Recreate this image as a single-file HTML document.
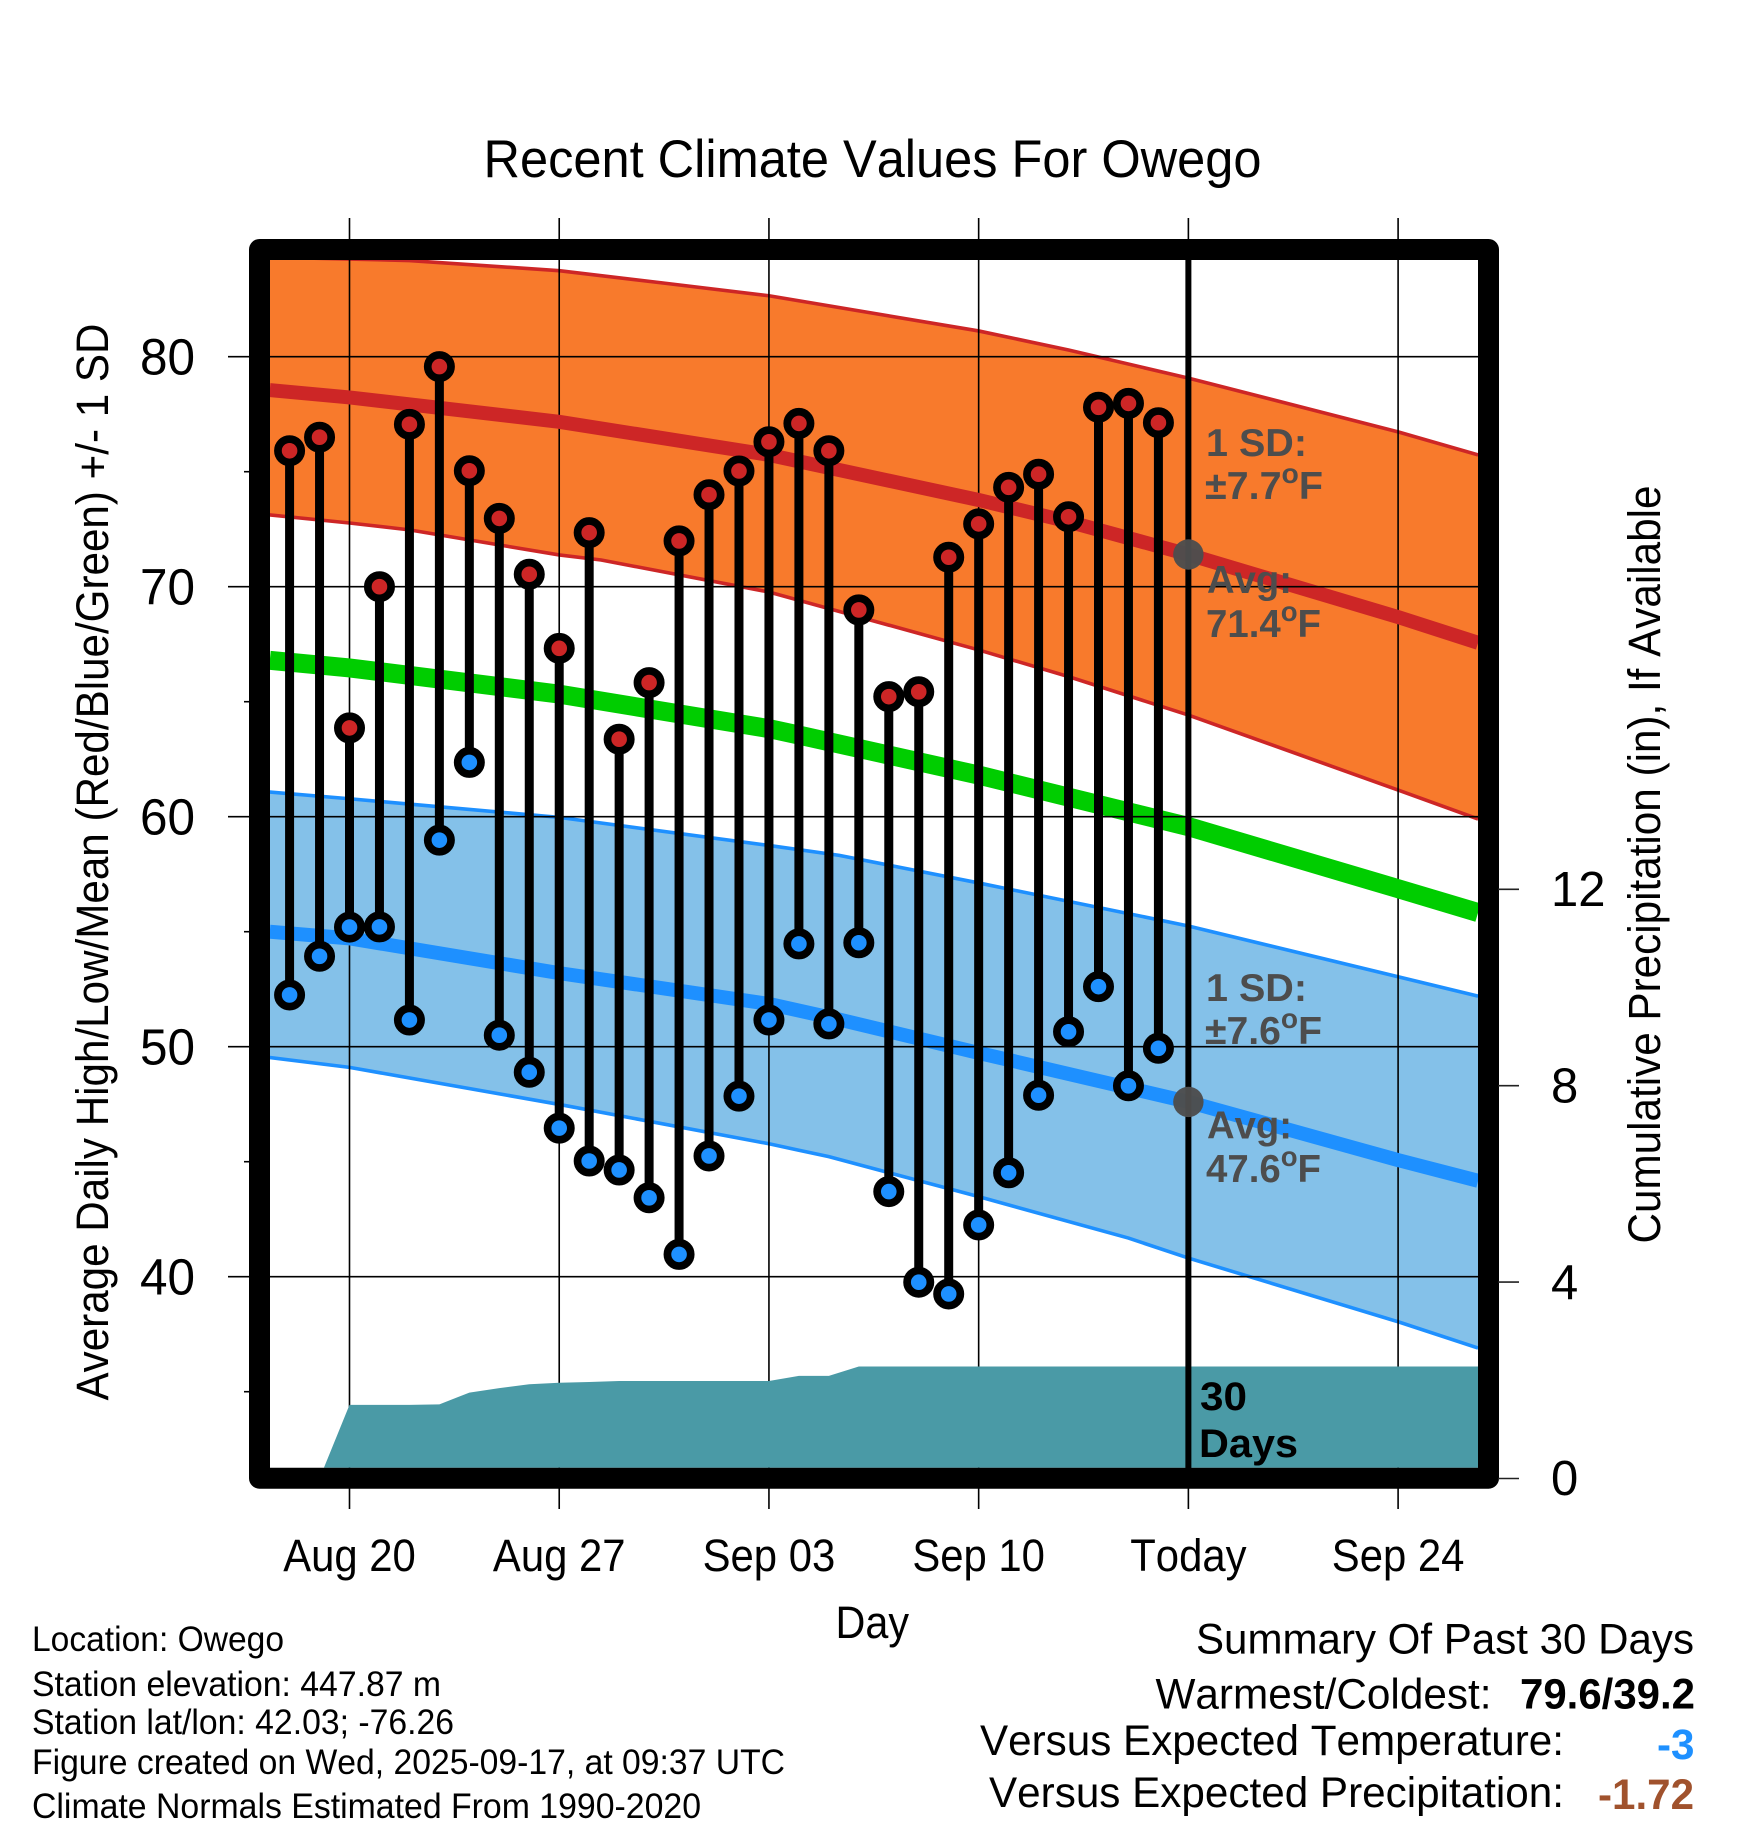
<!DOCTYPE html>
<html lang="en">
<head>
<meta charset="utf-8">
<title>Recent Climate Values For Owego</title>
<style>
html,body{margin:0;padding:0;background:#fff;}
svg{display:block;}
text{font-family:"Liberation Sans",Arial,sans-serif;fill:#000;font-kerning:none;}
.b{font-weight:bold;}
.ann{font-weight:bold;fill:#4D4D4D;font-size:39px;}
</style>
</head>
<body>
<svg id="chart" xmlns="http://www.w3.org/2000/svg" width="1748" height="1828" viewBox="0 0 1748 1828">
  <defs>
    <clipPath id="plot-clip"><rect x="270" y="260" width="1208" height="1207.7"/></clipPath>
  </defs>
  <rect x="0" y="0" width="1748" height="1828" fill="#ffffff"/>
  <text x="483.5" y="177" font-size="53" textLength="778" lengthAdjust="spacingAndGlyphs">Recent Climate Values For Owego</text>

  <g id="layer-bands" clip-path="url(#plot-clip)"></g>
  <g id="layer-vgrid"></g>
  <g id="layer-means" clip-path="url(#plot-clip)"></g>
  <g id="layer-hgrid"></g>
  <g id="layer-precip" clip-path="url(#plot-clip)"></g>
  <g id="layer-stems"></g>
  <g id="layer-markers"></g>
  <g id="layer-today"></g>

  <g>
    <text class="ann" x="1206" y="456" textLength="101" lengthAdjust="spacingAndGlyphs">1 SD:</text>
    <text class="ann" x="1205" y="499" textLength="118" lengthAdjust="spacingAndGlyphs">±7.7<tspan font-size="28" dy="-16">o</tspan><tspan dy="16">F</tspan></text>
    <text class="ann" x="1207" y="593" textLength="85" lengthAdjust="spacingAndGlyphs">Avg:</text>
    <text class="ann" x="1206" y="637" textLength="115" lengthAdjust="spacingAndGlyphs">71.4<tspan font-size="28" dy="-16">o</tspan><tspan dy="16">F</tspan></text>
  </g>
  <g>
    <text class="ann" x="1206" y="1001" textLength="101" lengthAdjust="spacingAndGlyphs">1 SD:</text>
    <text class="ann" x="1205" y="1044" textLength="117" lengthAdjust="spacingAndGlyphs">±7.6<tspan font-size="28" dy="-16">o</tspan><tspan dy="16">F</tspan></text>
    <text class="ann" x="1207" y="1138.5" textLength="85" lengthAdjust="spacingAndGlyphs">Avg:</text>
    <text class="ann" x="1206" y="1182" textLength="115" lengthAdjust="spacingAndGlyphs">47.6<tspan font-size="28" dy="-16">o</tspan><tspan dy="16">F</tspan></text>
  </g>
  <text class="b" x="1200" y="1410" font-size="40" textLength="47" lengthAdjust="spacingAndGlyphs">30</text>
  <text class="b" x="1199" y="1457" font-size="40" textLength="99" lengthAdjust="spacingAndGlyphs">Days</text>

  <rect x="259.5" y="249.5" width="1229" height="1228.7" fill="none" stroke="#000" stroke-width="21" stroke-linejoin="round"/>

  <g id="layer-axes"></g>

  <text transform="translate(108,862) rotate(-90)" text-anchor="middle" font-size="45" textLength="1077" lengthAdjust="spacingAndGlyphs">Average Daily High/Low/Mean (Red/Blue/Green) +/- 1 SD</text>
  <text transform="translate(1660,864.5) rotate(-90)" text-anchor="middle" font-size="45" textLength="758" lengthAdjust="spacingAndGlyphs">Cumulative Precipitation (in), If Available</text>
  <text x="835.5" y="1638" font-size="45" textLength="73.5" lengthAdjust="spacingAndGlyphs">Day</text>

  <g>
    <text x="32" y="1651" font-size="35" textLength="252" lengthAdjust="spacingAndGlyphs">Location: Owego</text>
    <text x="32" y="1696" font-size="35" textLength="409" lengthAdjust="spacingAndGlyphs">Station elevation: 447.87 m</text>
    <text x="32" y="1734" font-size="35" textLength="422" lengthAdjust="spacingAndGlyphs">Station lat/lon: 42.03; -76.26</text>
    <text x="32" y="1774" font-size="35" textLength="753" lengthAdjust="spacingAndGlyphs">Figure created on Wed, 2025-09-17, at 09:37 UTC</text>
    <text x="32" y="1818" font-size="35" textLength="669" lengthAdjust="spacingAndGlyphs">Climate Normals Estimated From 1990-2020</text>
  </g>

  <g>
    <text x="1196" y="1653.5" font-size="43" textLength="498" lengthAdjust="spacingAndGlyphs">Summary Of Past 30 Days</text>
    <text x="1155.5" y="1708.5" font-size="43" textLength="336" lengthAdjust="spacingAndGlyphs">Warmest/Coldest:</text>
    <text class="b" x="1520" y="1708.5" font-size="43" textLength="175" lengthAdjust="spacingAndGlyphs">79.6/39.2</text>
    <text x="980" y="1755" font-size="43" textLength="584" lengthAdjust="spacingAndGlyphs">Versus Expected Temperature:</text>
    <text class="b" x="1657" y="1759" font-size="43" textLength="37.5" lengthAdjust="spacingAndGlyphs" style="fill:#1E90FF">-3</text>
    <text x="989" y="1807" font-size="43" textLength="575" lengthAdjust="spacingAndGlyphs">Versus Expected Precipitation:</text>
    <text class="b" x="1598" y="1809" font-size="43" textLength="96" lengthAdjust="spacingAndGlyphs" style="fill:#A0522D">-1.72</text>
  </g>
</svg>

<script>
// ---- Observed daily data ----
const dates = ["Aug 18","Aug 19","Aug 20","Aug 21","Aug 22","Aug 23","Aug 24","Aug 25","Aug 26","Aug 27","Aug 28","Aug 29","Aug 30","Aug 31","Sep 01","Sep 02","Sep 03","Sep 04","Sep 05","Sep 06","Sep 07","Sep 08","Sep 09","Sep 10","Sep 11","Sep 12","Sep 13","Sep 14","Sep 15","Sep 16"];
const highs = [75.91,76.5,63.86,70.0,77.06,79.57,75.04,72.97,70.54,67.32,72.35,63.37,65.83,71.99,74.0,75.03,76.3,77.1,75.91,68.99,65.22,65.43,71.28,72.73,74.32,74.89,73.04,77.8,77.97,77.13];
const lows = [52.25,53.93,55.2,55.21,51.16,58.98,62.36,50.5,48.89,46.46,45.03,44.64,43.43,40.97,45.25,47.85,51.16,54.47,50.99,54.52,43.7,39.76,39.25,42.25,44.52,47.89,50.65,52.61,48.3,49.93];
const precip = [0,0,1.5,1.5,1.5,1.51,1.75,1.84,1.92,1.95,1.965,1.985,1.985,1.985,1.985,1.985,1.985,2.09,2.09,2.28,2.28,2.28,2.28,2.28,2.28,2.28,2.28,2.28,2.28,2.28];

// ---- Climate normals (day offset from Aug 20, value in F) ----
const highUpperDays = [-2.66,2,7,10.5,14,21,24,28,35,37.67];
const highUpper = [84.33,84.18,83.74,83.2,82.65,81.12,80.29,79.07,76.73,75.73];
const highMeanDays = [-2.66,0,7,14,21,24,28,35,37.67];
const highMean = [78.55,78.23,77.17,75.73,73.77,72.83,71.4,68.68,67.56];
const highLowerDays = [-2.66,0,2,7,8.4,14,21,24,28,35,37.67];
const highLower = [73.12,72.77,72.47,71.38,71.16,69.77,67.25,66.09,64.42,61.16,59.9];
const meanDays = [-2.66,0,7,14,15,21,28,35,37.67];
const meanTemp = [66.8,66.47,65.33,63.83,63.55,61.81,59.57,56.87,55.83];
const lowUpperDays = [-2.66,0,7,14,16.35,21,28,35,37.67];
const lowUpper = [61.07,60.78,59.97,58.75,58.32,57.12,55.25,53.04,52.2];
const lowMeanDays = [-2.66,0,7,14,16.35,21,28,35,37.67];
const lowMean = [55,54.71,53.2,51.86,51.18,49.73,47.6,45.07,44.17];
const lowLowerDays = [-2.66,0,7,14,15,16,21,26,28,35,37.67];
const lowLower = [49.53,49.1,47.49,45.78,45.5,45.22,43.48,41.68,40.81,38.04,36.9];

// ---- Axis ticks ----
const xTickDays = [0,7,14,21,28,35];
const xTickLabels = ["Aug 20","Aug 27","Sep 03","Sep 10","Today","Sep 24"];
const yMajorTicks = [80,70,60,50,40];
const yMinorTicks = [75,65,55,45,35];
const precipTicks = [0,4,8,12];
const todayHigh = 71.4;
const todayLow = 47.6;
const todayDay = 28;
const rightEdgeDay = 37.67;

// ---- Axis functions ----
const X = d => 349.5 + 29.96 * d;
const Y = v => 356.7 + (80 - v) * 23;
const P = p => 1478.5 - 49.1 * p;
const dayOfIndex = i => i - 2;

const NS = 'http://www.w3.org/2000/svg';
function make(tag, parentId, attrs) {
  const el = document.createElementNS(NS, tag);
  for (const k in attrs) el.setAttribute(k, attrs[k]);
  document.getElementById(parentId).appendChild(el);
  return el;
}
const linePath = (days, vals) => days.map((d, i) => (i ? 'L' : 'M') + X(d).toFixed(2) + ' ' + Y(vals[i]).toFixed(2)).join(' ');
function bandPath(dUp, up, dLo, lo) {
  const a = dUp.map((d, i) => X(d).toFixed(2) + ' ' + Y(up[i]).toFixed(2));
  const b = dLo.map((d, i) => X(d).toFixed(2) + ' ' + Y(lo[i]).toFixed(2)).reverse();
  return 'M' + a.concat(b).join(' L') + ' Z';
}

// Bands
let el;
el = make('path', 'layer-bands', {d: bandPath(highUpperDays, highUpper, highLowerDays, highLower), fill: '#F87A2C'});


el = make('path', 'layer-bands', {d: linePath(highUpperDays, highUpper), fill: 'none', stroke: '#CD2626', 'stroke-width': 3.6});


el = make('path', 'layer-bands', {d: linePath(highLowerDays, highLower), fill: 'none', stroke: '#CD2626', 'stroke-width': 3.6});


el = make('path', 'layer-bands', {d: bandPath(lowUpperDays, lowUpper, lowLowerDays, lowLower), fill: '#84C1E9'});


el = make('path', 'layer-bands', {d: linePath(lowUpperDays, lowUpper), fill: 'none', stroke: '#1E90FF', 'stroke-width': 3.6});


el = make('path', 'layer-bands', {d: linePath(lowLowerDays, lowLower), fill: 'none', stroke: '#1E90FF', 'stroke-width': 3.6});



// Vertical grid and x tick labels
xTickDays.forEach((d, i) => {
  const g = make('line', 'layer-vgrid', {x1: X(d), x2: X(d), y1: 218, y2: 1509, stroke: '#000', 'stroke-width': 1.6});
  
  
  const t = make('text', 'layer-axes', {transform: 'translate(' + X(d) + ',1571) scale(0.93,1)', 'text-anchor': 'middle', 'font-size': 45});
  t.textContent = xTickLabels[i];
  
  
});

// Mean lines
el = make('path', 'layer-means', {d: linePath(highMeanDays, highMean), fill: 'none', stroke: '#CD2626', 'stroke-width': 14});


el = make('path', 'layer-means', {d: linePath(meanDays, meanTemp), fill: 'none', stroke: '#00CD00', 'stroke-width': 19});


el = make('path', 'layer-means', {d: linePath(lowMeanDays, lowMean), fill: 'none', stroke: '#1E90FF', 'stroke-width': 14});



// Horizontal grid and y tick labels
yMajorTicks.forEach(v => {
  const g = make('line', 'layer-hgrid', {x1: 228, x2: 1478, y1: Y(v), y2: Y(v), stroke: '#000', 'stroke-width': 1.6});
  
  
  const t = make('text', 'layer-axes', {transform: 'translate(195,' + (Y(v) + 18) + ') scale(0.97,1)', 'text-anchor': 'end', 'font-size': 51});
  t.textContent = String(v);
  
  
});
yMinorTicks.forEach(v => {
  const g = make('line', 'layer-axes', {x1: 244, x2: 250, y1: Y(v), y2: Y(v), stroke: '#000', 'stroke-width': 1.6});
  
  
});
precipTicks.forEach(p => {
  const g = make('line', 'layer-axes', {x1: 1498, x2: 1519, y1: P(p), y2: P(p), stroke: '#222', 'stroke-width': 1.6});
  
  
  const t = make('text', 'layer-axes', {transform: 'translate(1551,' + (P(p) + 16.7) + ')', 'font-size': 49});
  t.textContent = String(p);
  
  
});

// Cumulative precipitation
let precipD = 'M' + X(dayOfIndex(0)).toFixed(2) + ' ' + P(0).toFixed(2);
precip.forEach((p, i) => { precipD += ' L' + X(dayOfIndex(i)).toFixed(2) + ' ' + P(p).toFixed(2); });
precipD += ' L' + X(rightEdgeDay).toFixed(2) + ' ' + P(precip[precip.length - 1]).toFixed(2);
precipD += ' L' + X(rightEdgeDay).toFixed(2) + ' ' + P(0).toFixed(2) + ' Z';
el = make('path', 'layer-precip', {d: precipD, fill: '#4A9AA6'});



// Daily stems and markers
dates.forEach((label, i) => {
  const x = X(dayOfIndex(i));
  const s = make('line', 'layer-stems', {x1: x, x2: x, y1: Y(highs[i]), y2: Y(lows[i]), stroke: '#000', 'stroke-width': 9});
  
  
  const hi = make('circle', 'layer-markers', {cx: x, cy: Y(highs[i]), r: 11.65, fill: '#CD2626', stroke: '#000', 'stroke-width': 7.7});
  
  
  const lo = make('circle', 'layer-markers', {cx: x, cy: Y(lows[i]), r: 11.65, fill: '#1E90FF', stroke: '#000', 'stroke-width': 7.7});
  
  
});

// Today marker
el = make('line', 'layer-today', {x1: X(todayDay), x2: X(todayDay), y1: 260, y2: 1468, stroke: '#000', 'stroke-width': 6});


el = make('circle', 'layer-today', {cx: X(todayDay), cy: Y(todayHigh), r: 15.2, fill: '#4D4D4D', opacity: 0.97});


el = make('circle', 'layer-today', {cx: X(todayDay), cy: Y(todayLow), r: 15.2, fill: '#4D4D4D', opacity: 0.97});


</script>
</body>
</html>
